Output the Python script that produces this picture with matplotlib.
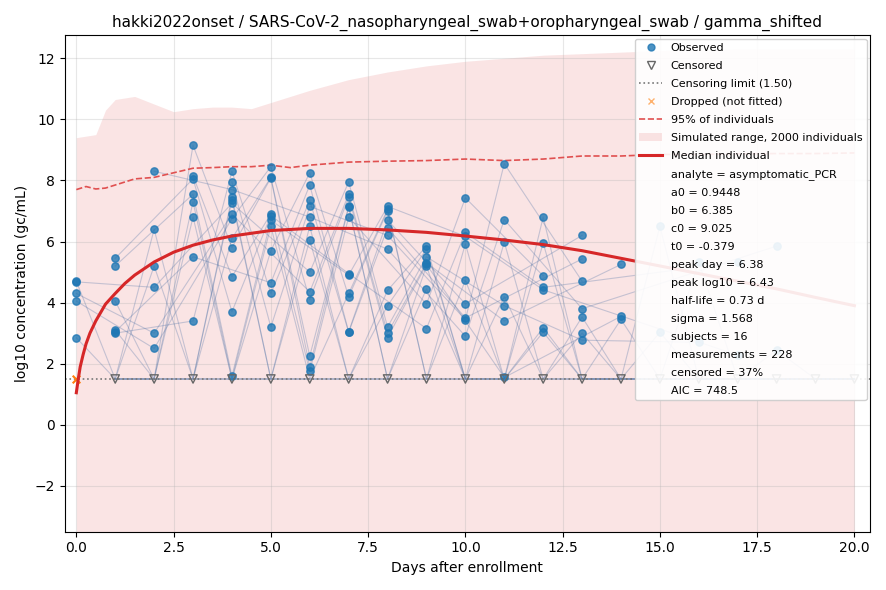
import matplotlib
matplotlib.use("Agg")
import matplotlib.pyplot as plt
from matplotlib.lines import Line2D
from matplotlib.patches import Patch

observed = {
    0: [4.7, 4.68, 4.3, 4.05, 2.85],
    1: [5.45, 5.2, 4.05, 3.1, 3.05, 3.0],
    2: [8.3, 6.4, 5.2, 4.5, 3.0, 2.5],
    3: [9.15, 8.15, 8.05, 7.55, 7.3, 6.8, 5.5, 3.4],
    4: [8.3, 7.95, 7.7, 7.45, 7.35, 7.25, 6.9, 6.75, 6.1, 5.8, 4.85, 3.7, 1.6],
    5: [8.45, 8.1, 8.08, 6.9, 6.85, 6.7, 6.5, 5.7, 4.65, 4.3, 3.2],
    6: [8.25, 7.85, 7.35, 7.15, 6.8, 6.5, 6.05, 5.0, 4.35, 4.1, 2.25, 1.9, 1.75],
    7: [7.95, 7.55, 7.45, 7.15, 7.13, 6.8, 4.95, 4.9, 4.3, 4.2, 3.05, 3.03],
    8: [7.15, 7.05, 7.0, 6.7, 6.45, 6.2, 5.75, 4.4, 3.9, 3.2, 3.0, 2.85],
    9: [5.85, 5.75, 5.5, 5.3, 5.25, 5.2, 4.45, 3.95, 3.15],
    10: [7.43, 6.3, 6.17, 5.92, 4.73, 3.96, 3.5, 3.44, 2.9],
    11: [8.55, 6.72, 5.98, 4.2, 3.9, 3.4, 1.55],
    12: [6.8, 5.95, 4.88, 4.5, 4.42, 3.18, 3.03],
    13: [6.2, 5.43, 4.7, 3.8, 3.53, 3.0, 2.77],
    14: [5.25, 3.55, 3.45],
    15: [6.5, 3.03],
    16: [5.33, 2.7],
    17: [5.33, 2.28],
    18: [5.85, 2.44],
    19: [],
    20: [],
}
n_subjects = 16
lod = 1.5
dropped_t = [0.0]
dropped_y = [1.5]

sim_t = [0, 0.5, 0.75, 1, 1.5, 2, 2.5, 3, 3.5, 4, 4.5, 5, 6, 7, 8, 9, 10, 11, 12, 13, 14, 15, 16, 17, 18, 19, 20]
sim_upper = [9.4, 9.5, 10.3, 10.65, 10.75, 10.5, 10.25, 10.35, 10.4, 10.4, 10.35, 10.55, 10.95, 11.3,
             11.55, 11.75, 11.9, 12.0, 12.1, 12.15, 12.2, 12.25, 12.28, 12.3, 12.3, 12.3, 12.3]
sim_lower = [-4.0] * len(sim_t)

p95_t = [0, 0.25, 0.5, 0.75, 1, 1.5, 2, 2.5, 3, 3.5, 4, 4.5, 5, 5.5, 6, 6.5, 7, 8, 9, 10, 11, 12, 13, 14, 15, 16, 17, 18, 19, 20]
p95_y = [7.7, 7.8, 7.72, 7.75, 7.85, 8.05, 8.1, 8.25, 8.4, 8.42, 8.45, 8.45, 8.5, 8.42, 8.5, 8.55, 8.6, 8.63,
         8.65, 8.7, 8.65, 8.7, 8.8, 8.8, 8.85, 8.85, 8.87, 8.88, 8.88, 8.9]

med_t = [0, 0.05, 0.1, 0.175, 0.25, 0.35, 0.5, 0.75, 1, 1.25, 1.5, 2, 2.5, 3, 3.5, 4, 5, 6, 7, 8, 9, 10,
         11, 12, 13, 14, 15, 16, 17, 18, 19, 20]
med_y = [1.05, 1.5, 1.9, 2.3, 2.65, 3.0, 3.4, 3.95, 4.3, 4.63, 4.9, 5.33, 5.65, 5.88, 6.05, 6.18, 6.36, 6.43,
         6.43, 6.38, 6.3, 6.18, 6.05, 5.9, 5.7, 5.45, 5.2, 4.95, 4.7, 4.45, 4.17, 3.9]

stats = ["analyte = asymptomatic_PCR", "a0 = 0.9448", "b0 = 6.385", "c0 = 9.025", "t0 = -0.379",
         "peak day = 6.38", "peak log10 = 6.43", "half-life = 0.73 d", "sigma = 1.568",
         "subjects = 16", "measurements = 228", "censored = 37%", "AIC = 748.5"]

# subject trajectories: ranks shift a little each day; some subjects fall to the limit
traj = {s: ([], []) for s in range(n_subjects)}
for d, vals in observed.items():
    order = [(s * 7 + d) % n_subjects for s in range(n_subjects)]
    for i, s in enumerate(order):
        if i < len(vals):
            traj[s][0].append(d); traj[s][1].append(vals[i])
        elif d > 0 and s % 3 == 0:
            traj[s][0].append(d); traj[s][1].append(lod)

fig, ax = plt.subplots(figsize=(8.87, 5.9), dpi=100)
ax.fill_between(sim_t, sim_lower, sim_upper, color="#d62728", alpha=0.12, lw=0)
for s in range(n_subjects):
    ax.plot(traj[s][0], traj[s][1], color="#4a6fa5", alpha=0.3, lw=0.8)
ax.plot(list(range(1, 21)), [lod] * 20, color="#4a6fa5", alpha=0.5, lw=1.2)
ox = [d for d, v in observed.items() for _ in v]
oy = [y for v in observed.values() for y in v]
ax.scatter(ox, oy, s=28, color="#1f77b4", alpha=0.8, zorder=3)
cx = list(range(1, 21))
ax.scatter(cx, [lod] * len(cx), marker="v", s=36, facecolor="none", edgecolor="#666666", zorder=3)
ax.axhline(lod, color="#777777", ls=":", lw=1.2)
ax.scatter(dropped_t, dropped_y, marker="x", color="#ff7f0e", s=30, zorder=4)
ax.plot(p95_t, p95_y, color="#e05050", ls="--", lw=1.2)
ax.plot(med_t, med_y, color="#d62728", lw=2.2, zorder=5)

ax.set_xlim(-0.3, 20.4)
ax.set_ylim(-3.5, 12.75)
ax.grid(alpha=0.3)
ax.set_xlabel("Days after enrollment")
ax.set_ylabel("log10 concentration (gc/mL)")
ax.set_title("hakki2022onset / SARS-CoV-2_nasopharyngeal_swab+oropharyngeal_swab / gamma_shifted", fontsize=11)

handles = [
    Line2D([], [], marker="o", ls="none", color="#1f77b4", alpha=0.8, markersize=5),
    Line2D([], [], marker="v", ls="none", mfc="none", mec="#666666", markersize=6),
    Line2D([], [], color="#777777", ls=":", lw=1.2),
    Line2D([], [], marker="x", ls="none", color="#ff7f0e", alpha=0.6, markersize=5),
    Line2D([], [], color="#e05050", ls="--", lw=1.2),
    Patch(color="#d62728", alpha=0.12, lw=0),
    Line2D([], [], color="#d62728", lw=2.2),
] + [Line2D([], [], ls="none") for _ in stats]
labels = ["Observed", "Censored", "Censoring limit (1.50)", "Dropped (not fitted)", "95% of individuals",
          "Simulated range, 2000 individuals", "Median individual"] + stats
ax.legend(handles, labels, loc="upper right", fontsize=8, framealpha=0.9, labelspacing=0.72,
          borderaxespad=0.3)
fig.tight_layout()
fig.savefig("out.png")
